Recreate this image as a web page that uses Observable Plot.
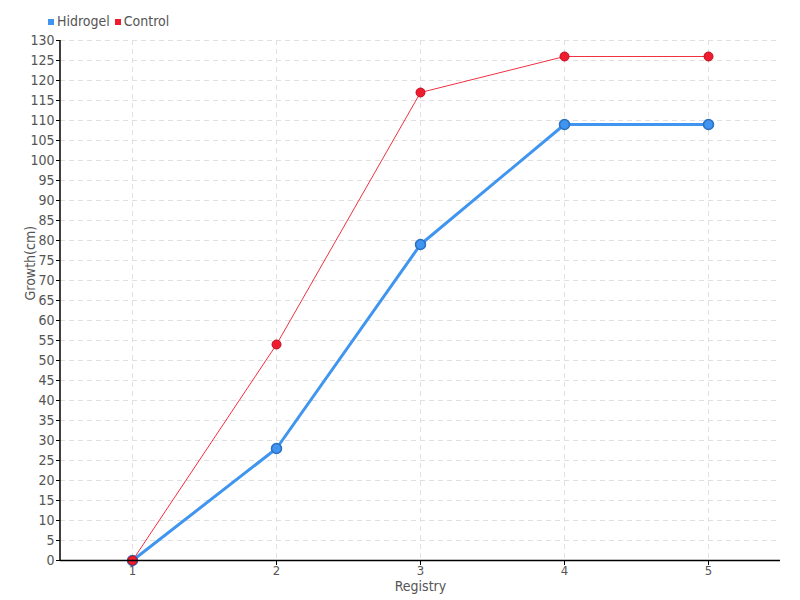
<!DOCTYPE html>
<html><head><meta charset="utf-8">
<script src="https://cdn.jsdelivr.net/npm/d3@7"></script>
<script src="https://cdn.jsdelivr.net/npm/@observablehq/plot@0.6"></script>
<style>
body{margin:0;background:#fff;font-family:"DejaVu Sans Condensed","Liberation Sans Narrow",sans-serif;}
#wrap{position:relative;width:800px;height:600px;}
#legend{position:absolute;left:48px;top:13px;font-size:14px;color:#555;display:flex;gap:5px;align-items:center;}
#legend span.sw{display:inline-block;width:6px;height:6px;margin-right:3px;vertical-align:middle;}
</style></head>
<body><div id="wrap"><div id="legend"></div><div id="chart"></div></div>
<script>
const registry = [1, 2, 3, 4, 5];
const hidrogel = [0, 28, 79, 109, 109];
const control = [0, 54, 117, 126, 126];
const seriesNames = ["Hidrogel", "Control"];
const seriesColors = ["#3f95f0", "#ee1c2e"];
const yTicks = d3.range(0, 131, 5);

const hData = registry.map((r, i) => ({r: String(r), v: hidrogel[i]}));
const cData = registry.map((r, i) => ({r: String(r), v: control[i]}));

const leg = document.getElementById("legend");
seriesNames.forEach((n, i) => {
  const s = document.createElement("span");
  s.innerHTML = `<span class="sw" style="background:${seriesColors[i]}"></span>${n}`;
  leg.appendChild(s);
});

const chart = Plot.plot({
  width: 800, height: 600,
  marginTop: 40, marginBottom: 40, marginLeft: 60, marginRight: 20,
  style: {fontFamily: '"DejaVu Sans Condensed","Liberation Sans Narrow",sans-serif', fontSize: "14px", color: "#555"},
  x: {type: "point", domain: registry.map(String), padding: 0.5, label: null},
  y: {domain: [0, 130], label: null},
  marks: [
    Plot.gridX(registry.map(String), {stroke: "#e0e0e0", strokeOpacity: 1, strokeDasharray: "5,4"}),
    Plot.gridY(yTicks.filter(d => d > 0), {stroke: "#e0e0e0", strokeOpacity: 1, strokeDasharray: "5,4"}),
    Plot.axisY(yTicks, {tickSize: 4, tickPadding: 2, fontSize: 14, fill: "#555", stroke: "#000", label: null}),
    Plot.axisX(registry.map(String), {tickSize: 5, tickPadding: 0, fontSize: 13, fill: "#555", stroke: "#000", label: null}),
    Plot.line(hData, {x: "r", y: "v", stroke: seriesColors[0], strokeWidth: 3}),
    Plot.dot(hData, {x: "r", y: "v", r: 5, fill: seriesColors[0], stroke: "#2a6fc0", strokeWidth: 1.5}),
    Plot.line(cData, {x: "r", y: "v", stroke: seriesColors[1], strokeWidth: 1, strokeOpacity: 0.9}),
    Plot.dot(cData, {x: "r", y: "v", r: 4.5, fill: seriesColors[1], stroke: "#c0101f", strokeWidth: 1}),
    Plot.ruleY([0], {stroke: "#000", strokeWidth: 1.5}),
    Plot.text(["Growth(cm)"], {frameAnchor: "left", dx: -30, rotate: -90, fontSize: 14, fill: "#555"}),
    Plot.text(["Registry"], {frameAnchor: "bottom", dy: 30, fontSize: 14, fill: "#555"})
  ]
});
document.getElementById("chart").appendChild(chart);
const svg = d3.select(chart);
svg.append("line").attr("x1", 60).attr("x2", 60).attr("y1", 40).attr("y2", 560).attr("stroke", "#000").attr("stroke-width", 1.5);
</script></body></html>
